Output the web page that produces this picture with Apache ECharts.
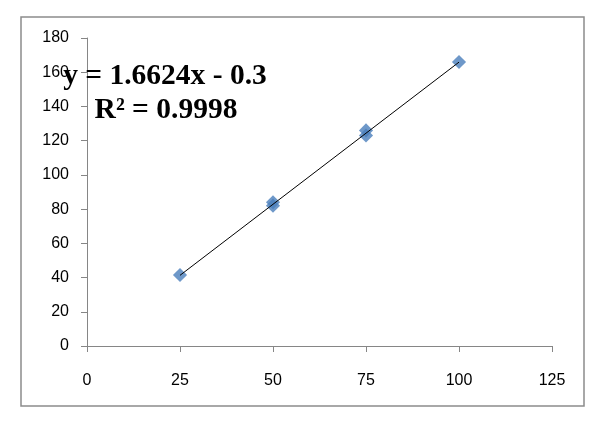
<!DOCTYPE html>
<html>
<head>
<meta charset="utf-8">
<script src="https://cdn.jsdelivr.net/npm/echarts@6/dist/echarts.min.js"></script>
<style>
  html, body { margin: 0; padding: 0; background: #fff; }
  #chart { width: 600px; height: 422px; }
</style>
</head>
<body>
<div id="chart"></div>
<script>
// measured points (x = concentration, y = reading)
const xValues = [25, 50, 50, 75, 75, 100];
const yValues = [41.5, 82, 84, 123, 126, 166];
// trendline ends, from y = 1.6624x - 0.3
const trendX = [25, 100];
const trendY = [41.3, 165.9];
const equationLines = ['y = 1.6624x - 0.3', 'R² = 0.9998'];

const points = xValues.map((x, i) => [x, yValues[i]]);
const trend = trendX.map((x, i) => [x, trendY[i]]);

const axisGrey = '#868686';
const labelFont = { fontFamily: 'Liberation Sans', fontSize: 16, color: '#000' };

const chart = echarts.init(document.getElementById('chart'));
chart.setOption({
  animation: false,
  grid: { left: 87, right: 48, top: 38, bottom: 76 },
  xAxis: {
    type: 'value',
    min: 0, max: 125, interval: 25,
    axisLine: { show: true, lineStyle: { color: axisGrey, width: 1 } },
    axisTick: { show: true, length: 6, lineStyle: { color: axisGrey } },
    axisLabel: Object.assign({ margin: 27 }, labelFont),
    splitLine: { show: false }
  },
  yAxis: {
    type: 'value',
    min: 0, max: 180, interval: 20,
    axisLine: { show: true, lineStyle: { color: axisGrey, width: 1 } },
    axisTick: { show: true, length: 6, lineStyle: { color: axisGrey } },
    axisLabel: Object.assign({ margin: 18 }, labelFont),
    splitLine: { show: false }
  },
  series: [
    {
      type: 'line',
      data: trend,
      showSymbol: false,
      lineStyle: { color: '#000', width: 1 },
      z: 3
    },
    {
      type: 'scatter',
      data: points,
      symbol: 'rect',
      symbolSize: 10,
      symbolRotate: 45,
      itemStyle: { color: '#4A7EBB' },
      z: 2
    }
  ],
  graphic: [
    {
      type: 'rect',
      shape: { x: 21, y: 17, width: 563, height: 389 },
      style: { fill: 'none', stroke: '#8c8c8c', lineWidth: 1.5 },
      silent: true
    },
    {
      type: 'text',
      x: 165, y: 76,
      style: {
        text: equationLines[0],
        font: 'bold 29.5px "Liberation Serif"',
        fill: '#000',
        textAlign: 'center',
        textVerticalAlign: 'middle'
      },
      z: 10
    },
    {
      type: 'text',
      x: 166, y: 110,
      style: {
        text: equationLines[1],
        font: 'bold 29.5px "Liberation Serif"',
        fill: '#000',
        textAlign: 'center',
        textVerticalAlign: 'middle'
      },
      z: 10
    }
  ]
});
</script>
</body>
</html>
